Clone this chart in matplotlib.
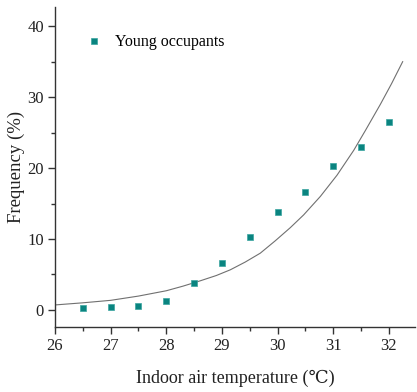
import numpy as np
import matplotlib
matplotlib.use("Agg")
import matplotlib.pyplot as plt
from matplotlib.ticker import MultipleLocator

# Measured points (young occupants)
temp = [26.5, 27.0, 27.5, 28.0, 28.5, 29.0, 29.5, 30.0, 30.5, 31.0, 31.5, 32.0]
freq = [0.24, 0.38, 0.61, 1.31, 3.85, 6.66, 10.24, 13.8, 16.66, 20.3, 23.0, 26.5]

# Fitted curve
curve_x = [26.0, 26.5, 27.0, 27.5, 28.0, 28.3, 28.61, 28.9, 29.15, 29.42, 29.69,
           29.96, 30.23, 30.47, 30.77, 31.07, 31.37, 31.58, 31.85, 32.05, 32.25]
curve_y = [0.7, 1.0, 1.35, 1.95, 2.7, 3.35, 4.1, 4.85, 5.65, 6.75, 8.0,
           9.75, 11.6, 13.4, 16.0, 19.0, 22.5, 25.3, 29.0, 31.9, 35.0]

plt.rcParams["font.family"] = ["Liberation Serif", "DejaVu Serif"]

fig = plt.figure(figsize=(4.17, 3.92), dpi=100)
ax = fig.add_axes([0.132, 0.166, 0.863, 0.816])

ax.plot(curve_x, curve_y, color="#707070", lw=0.8, zorder=2)
ax.plot(temp, freq, ls="none", marker="s", ms=5, color="#0a8480",
        mec="#3aa5a0", mew=0.5, label="Young occupants", zorder=3)

ax.set_xlim(26, 32.47)
ax.set_ylim(-2.4, 42.7)
ax.xaxis.set_major_locator(MultipleLocator(1))
ax.xaxis.set_minor_locator(MultipleLocator(0.5))
ax.yaxis.set_major_locator(MultipleLocator(10))
ax.yaxis.set_minor_locator(MultipleLocator(5))

for s in ["top", "right"]:
    ax.spines[s].set_visible(False)
for s in ["left", "bottom"]:
    ax.spines[s].set_color("#333333")
    ax.spines[s].set_linewidth(1.0)

ax.tick_params(which="major", direction="out", length=5, width=1.0,
               color="#333333", labelsize=12, labelcolor="#222222", pad=3)
ax.tick_params(which="minor", direction="out", length=3, width=1.0,
               color="#333333")

ax.set_xlabel("Indoor air temperature (\u2103)", fontsize=13, color="#222222", labelpad=11)
ax.set_ylabel("Frequency (%)", fontsize=13.5, color="#222222", labelpad=2)

ax.legend(loc="upper left", bbox_to_anchor=(0.065, 0.935), frameon=False,
          fontsize=11.5, handletextpad=0.7, handlelength=1.2, borderaxespad=0)

fig.savefig("out.png", dpi=100)
